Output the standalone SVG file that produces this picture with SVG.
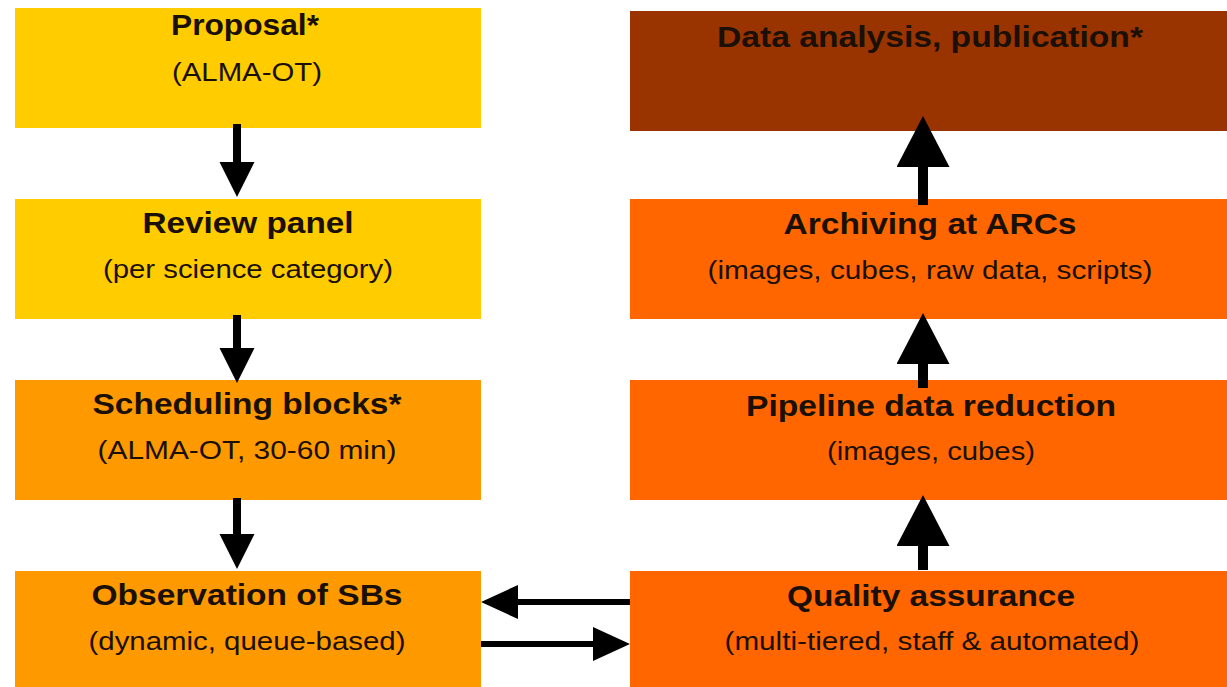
<svg xmlns="http://www.w3.org/2000/svg" width="1227" height="687" viewBox="0 0 1227 687">
<style>
.t{font-family:"Liberation Sans",Arial,sans-serif;font-weight:bold;font-size:30px;fill:#1a1008;text-anchor:middle}
.s{font-family:"Liberation Sans",Arial,sans-serif;font-size:25px;fill:#1a1008;text-anchor:middle}
.ln{stroke:#000;fill:none}
</style>
<defs>
<marker id="hL" markerUnits="userSpaceOnUse" markerWidth="36" markerHeight="36" refX="0" refY="17.5" orient="auto"><path d="M0,0 L35,17.5 L0,35 Z" fill="#000"/></marker>
<marker id="hR" markerUnits="userSpaceOnUse" markerWidth="52" markerHeight="54" refX="0" refY="26.5" orient="auto"><path d="M0,0 L51,26.5 L0,53 Z" fill="#000"/></marker>
<marker id="hH" markerUnits="userSpaceOnUse" markerWidth="38" markerHeight="36" refX="0" refY="17" orient="auto"><path d="M0,0 L37,17 L0,34 Z" fill="#000"/></marker>
</defs>
<rect width="1227" height="687" fill="#fff"/>
<g id="proposal"><rect x="15" y="8" width="466" height="120" fill="#FFCC00"/>
<text class="t" x="245" y="35" textLength="148" lengthAdjust="spacingAndGlyphs">Proposal*</text>
<text class="s" x="247" y="81" textLength="150" lengthAdjust="spacingAndGlyphs">(ALMA-OT)</text></g>
<g id="review"><rect x="15" y="199" width="466" height="120" fill="#FFCC00"/>
<text class="t" x="248" y="233" textLength="211" lengthAdjust="spacingAndGlyphs">Review panel</text>
<text class="s" x="248" y="278" textLength="290" lengthAdjust="spacingAndGlyphs">(per science category)</text></g>
<g id="scheduling"><rect x="15" y="380" width="466" height="120" fill="#FF9900"/>
<text class="t" x="247" y="414" textLength="309" lengthAdjust="spacingAndGlyphs">Scheduling blocks*</text>
<text class="s" x="247" y="459" textLength="299" lengthAdjust="spacingAndGlyphs">(ALMA-OT, 30-60 min)</text></g>
<g id="observation"><rect x="15" y="571" width="466" height="116" fill="#FF9900"/>
<text class="t" x="247" y="605" textLength="311" lengthAdjust="spacingAndGlyphs">Observation of SBs</text>
<text class="s" x="247" y="650" textLength="317" lengthAdjust="spacingAndGlyphs">(dynamic, queue-based)</text></g>
<g id="analysis"><rect x="630" y="11" width="597" height="120" fill="#993300"/>
<text class="t" x="930" y="47" textLength="426" lengthAdjust="spacingAndGlyphs">Data analysis, publication*</text></g>
<g id="archiving"><rect x="630" y="199" width="597" height="120" fill="#FF6600"/>
<text class="t" x="930" y="234" textLength="293" lengthAdjust="spacingAndGlyphs">Archiving at ARCs</text>
<text class="s" x="930" y="279" textLength="445" lengthAdjust="spacingAndGlyphs">(images, cubes, raw data, scripts)</text></g>
<g id="pipeline"><rect x="630" y="380" width="597" height="120" fill="#FF6600"/>
<text class="t" x="931" y="416" textLength="370" lengthAdjust="spacingAndGlyphs">Pipeline data reduction</text>
<text class="s" x="931" y="460" textLength="208" lengthAdjust="spacingAndGlyphs">(images, cubes)</text></g>
<g id="qa"><rect x="630" y="571" width="597" height="116" fill="#FF6600"/>
<text class="t" x="931" y="606" textLength="288" lengthAdjust="spacingAndGlyphs">Quality assurance</text>
<text class="s" x="932" y="650" textLength="415" lengthAdjust="spacingAndGlyphs">(multi-tiered, staff &amp; automated)</text></g>
<g id="connectors">
<line class="ln" x1="237" y1="124" x2="237" y2="162" stroke-width="8" marker-end="url(#hL)"/>
<line class="ln" x1="237" y1="315" x2="237" y2="348" stroke-width="8" marker-end="url(#hL)"/>
<line class="ln" x1="237" y1="498" x2="237" y2="534" stroke-width="8" marker-end="url(#hL)"/>
<line class="ln" x1="923" y1="205" x2="923" y2="167" stroke-width="10" marker-end="url(#hR)"/>
<line class="ln" x1="923" y1="388" x2="923" y2="364" stroke-width="10" marker-end="url(#hR)"/>
<line class="ln" x1="923" y1="570" x2="923" y2="546" stroke-width="10" marker-end="url(#hR)"/>
<line class="ln" x1="630" y1="602" x2="518" y2="602" stroke-width="6" marker-end="url(#hH)"/>
<line class="ln" x1="481" y1="644" x2="593" y2="644" stroke-width="6" marker-end="url(#hH)"/>
</g>
</svg>
